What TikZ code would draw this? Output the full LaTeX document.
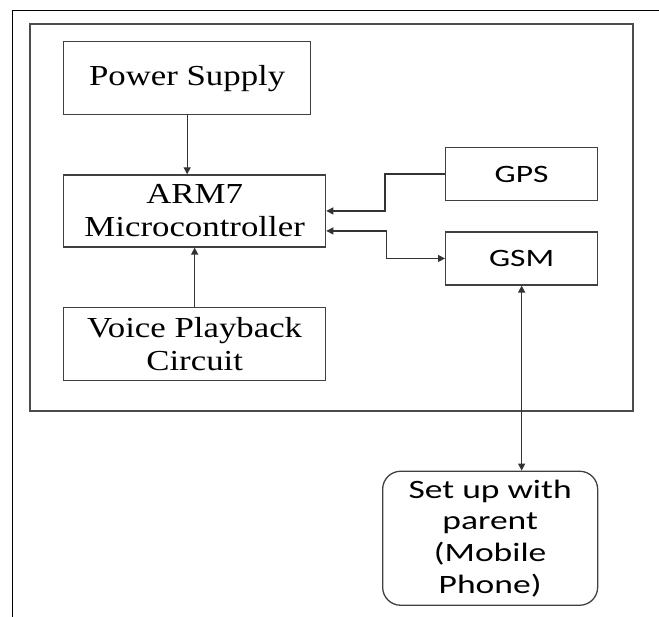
\documentclass[tikz,border=0pt]{standalone}
\usepackage{fontspec}
\setmainfont{Liberation Serif}[FakeStretch=1.2]
\newfontfamily\calibrifont{Carlito}[FakeStretch=1.34]
\usepackage{tikz}
\usetikzlibrary{arrows.meta,positioning}

\begin{document}
\begin{tikzpicture}[x=1pt, y=-1pt, box/.style={draw=black!75, line width=1.3pt, inner sep=0pt, align=center, font=\fontsize{29}{33}\selectfont}, sbox/.style={box, font=\calibrifont\fontsize{25}{30}\selectfont}, arr/.style={-{Triangle[length=7pt,width=7pt]}, line width=1.3pt, draw=black!80}, darr/.style={{Triangle[length=7pt,width=7pt]}-{Triangle[length=7pt,width=7pt]}, line width=1.3pt, draw=black!80}]
\useasboundingbox (0,0) rectangle (659,617);
\draw[line width=1.6pt] (12.3,617) -- (12.3,10.7) -- (659,10.7);
\draw[black!70, line width=1.8pt] (30,24) rectangle (633,411);
\node[box, minimum width=247pt, minimum height=73pt, anchor=north west] (ps) at (63,41) {Power Supply};
\node[box, minimum width=262pt, minimum height=72pt, below=59pt of ps.south west, anchor=north west] (arm) {ARM7\\Microcontroller};
\node[box, minimum width=262pt, minimum height=73pt, below=59pt of arm.south west, anchor=north west] (vp) {Voice Playback\\Circuit};
\node[sbox, minimum width=152pt, minimum height=53pt, anchor=north west] (gps) at (445,147) {GPS};
\node[sbox, minimum width=152pt, minimum height=53pt, below=30pt of gps] (gsm) {GSM};
\node[sbox, rounded corners=18pt, minimum width=215pt, minimum height=134pt, below=185pt of gsm.south east, anchor=north east, font=\calibrifont\fontsize{26.5}{31.7}\selectfont] (ph) {Set up with\\parent\\(Mobile\\Phone)};
\draw[arr] (ps.south) -- (ps.south |- arm.north); \draw[arr] (vp) -- (arm);
\draw[arr] (gps.west) -- ++(-60,0) |- (arm.east);
\draw[darr] ([yshift=-20pt]arm.east) -- ++(60,0) |- (gsm.west);
\draw[darr] (gsm.south) -- (gsm.south |- ph.north);
\end{tikzpicture}
\end{document}
